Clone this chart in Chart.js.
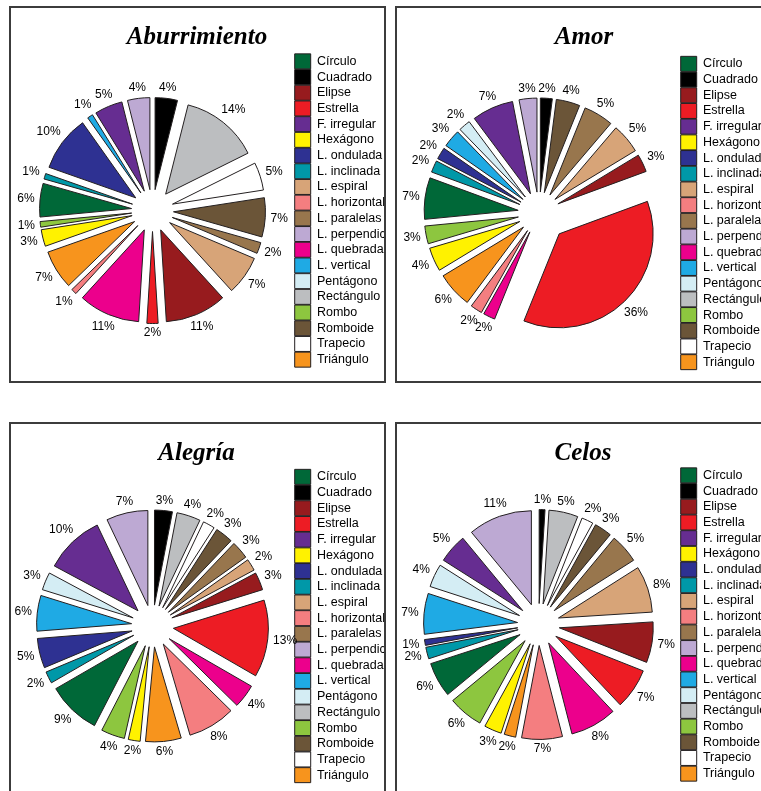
<!DOCTYPE html>
<html>
<head>
<meta charset="utf-8">
<script src="https://cdn.jsdelivr.net/npm/chart.js@4"></script>
<style>
  html, body { margin: 0; padding: 0; background: #fff; }
  body { width: 761px; height: 791px; overflow: hidden; position: relative; }
  .panel { position: absolute; box-sizing: border-box; width: 377px; height: 377px;
           border: 2px solid #3c3c3c; overflow: hidden; background: #fff; }
  .panel canvas { display: block; }
</style>
</head>
<body>
<div class="panel" style="left:9px;top:6px"><canvas id="c1" width="373" height="373"></canvas></div>
<div class="panel" style="left:395px;top:6px"><canvas id="c2" width="373" height="373"></canvas></div>
<div class="panel" style="left:9px;top:422px"><canvas id="c3" width="373" height="373"></canvas></div>
<div class="panel" style="left:395px;top:422px"><canvas id="c4" width="373" height="373"></canvas></div>
<script>
// Slice order around each pie (clockwise from 12 o'clock)
const categories = ['Cuadrado', 'Rectángulo', 'Trapecio', 'Romboide', 'L. paralelas', 'L. espiral',
  'Elipse', 'Estrella', 'L. quebrada', 'L. horizontal', 'Triángulo', 'Hexágono', 'Rombo',
  'Círculo', 'L. inclinada', 'L. ondulada', 'L. vertical', 'Pentágono', 'F. irregular', 'L. perpendic'];

// Legend order (alphabetical)
const legendOrder = ['Círculo', 'Cuadrado', 'Elipse', 'Estrella', 'F. irregular', 'Hexágono',
  'L. ondulada', 'L. inclinada', 'L. espiral', 'L. horizontal', 'L. paralelas', 'L. perpendic',
  'L. quebrada', 'L. vertical', 'Pentágono', 'Rectángulo', 'Rombo', 'Romboide', 'Trapecio', 'Triángulo'];

// Percentages per emotion, in slice order
const aburrimiento = [4, 14, 5, 7, 2, 7, 11, 2, 11, 1, 7, 3, 1, 6, 1, 10, 1, 0, 5, 4];
const amor         = [2, 0, 0, 4, 5, 5, 3, 36, 2, 2, 6, 4, 3, 7, 2, 2, 3, 2, 7, 3];
const alegria      = [3, 4, 2, 3, 3, 2, 3, 13, 4, 8, 6, 2, 4, 9, 2, 5, 6, 3, 10, 7];
const celos        = [1, 5, 2, 3, 5, 8, 7, 7, 8, 7, 2, 3, 6, 6, 2, 1, 7, 4, 5, 11];

const titles = ['Aburrimiento', 'Amor', 'Alegría', 'Celos'];

// Fill colour for each category
const palette = {
  'Círculo': '#006838', 'Cuadrado': '#000000', 'Elipse': '#971B1E', 'Estrella': '#ED1C24',
  'F. irregular': '#662D91', 'Hexágono': '#FFF200', 'L. ondulada': '#2E3192', 'L. inclinada': '#0098A8',
  'L. espiral': '#D7A478', 'L. horizontal': '#F47E80', 'L. paralelas': '#98764D', 'L. perpendic': '#BDA9D3',
  'L. quebrada': '#EC008C', 'L. vertical': '#1FAAE4', 'Pentágono': '#D4EDF4', 'Rectángulo': '#BCBEC0',
  'Rombo': '#8DC63F', 'Romboide': '#6B5538', 'Trapecio': '#FFFFFF', 'Triángulo': '#F7941D'
};

const FONT = "'Liberation Sans', Arial, sans-serif";

// Pulls every slice away from the centre along its mid angle
const explodePlugin = {
  id: 'explode',
  afterDatasetUpdate(chart, args, opts) {
    const labels = chart.data.labels;
    args.meta.data.forEach((arc, i) => {
      const extra = (opts.extra && opts.extra[labels[i]]) || 0;
      const d = (opts.distance || 0) + extra;
      const mid = (arc.startAngle + arc.endAngle) / 2;
      arc.x += d * Math.cos(mid);
      arc.y += d * Math.sin(mid);
    });
  }
};

// Percentage label just outside each slice
const sliceLabelPlugin = {
  id: 'sliceLabels',
  afterDatasetsDraw(chart, args, opts) {
    const ctx = chart.ctx;
    const meta = chart.getDatasetMeta(0);
    const values = chart.data.datasets[0].data;
    ctx.save();
    ctx.font = `${opts.size || 12}px ${FONT}`;
    ctx.fillStyle = '#000';
    ctx.textAlign = 'center';
    ctx.textBaseline = 'middle';
    const h = (opts.size || 12) * 0.72;
    meta.data.forEach((arc, i) => {
      const v = values[i];
      if (!v) return;
      const text = v + '%';
      const w = ctx.measureText(text).width;
      const mid = (arc.startAngle + arc.endAngle) / 2;
      const c = Math.cos(mid), s = Math.sin(mid);
      const d = arc.outerRadius + (opts.gap || 5) + Math.abs(c) * w / 2 + Math.abs(s) * h / 2;
      ctx.fillText(text, arc.x + d * c, arc.y + d * s);
    });
    ctx.restore();
  }
};

Chart.defaults.color = '#000';
Chart.defaults.font.family = FONT;

function makePie(canvasId, title, values, radius, layoutPad, extra) {
  return new Chart(document.getElementById(canvasId), {
    type: 'pie',
    data: {
      labels: categories,
      datasets: [{
        data: values,
        backgroundColor: categories.map(c => palette[c]),
        borderColor: '#231F20',
        borderWidth: 1,
        radius: radius
      }]
    },
    options: {
      responsive: false,
      animation: false,
      events: [],
      layout: { padding: layoutPad },
      plugins: {
        title: {
          display: true,
          text: title,
          color: '#000',
          font: { family: "'Liberation Serif', 'Times New Roman', serif", size: 25, weight: 'bold', style: 'italic', lineHeight: 1 },
          padding: { top: 17, bottom: 0 }
        },
        legend: {
          position: 'right',
          fullSize: false,
          maxWidth: 90,
          labels: {
            boxWidth: 16,
            boxHeight: 15,
            padding: 0.7,
            color: '#000',
            font: { family: FONT, size: 12.5 },
            sort: (a, b) => legendOrder.indexOf(a.text) - legendOrder.indexOf(b.text)
          }
        },
        tooltip: { enabled: false },
        explode: { distance: 21, extra: extra || {} },
        sliceLabels: { size: 12, gap: 5 }
      }
    },
    plugins: [explodePlugin, sliceLabelPlugin]
  });
}

makePie('c1', titles[0], aburrimiento, 92, { left: -1, right: 0, top: 0, bottom: 10 });
makePie('c2', titles[1], amor, 94, { left: 1, right: 0, top: 0, bottom: 5 }, { 'Estrella': 8 });
makePie('c3', titles[2], alegria, 95, { left: -2, right: 0, top: 0, bottom: 11 });
makePie('c4', titles[3], celos, 94, { left: -1, right: 0, top: 0, bottom: 14 });
</script>
</body>
</html>
